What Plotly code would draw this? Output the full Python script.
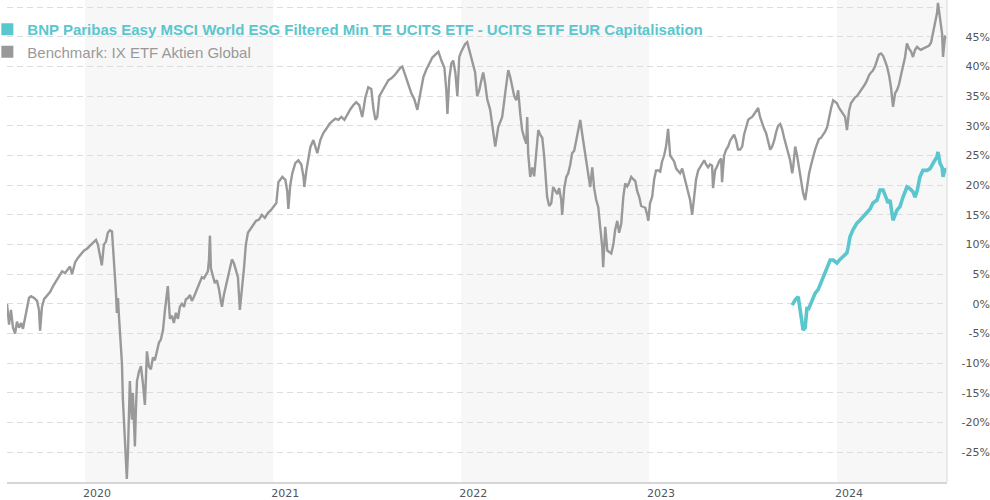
import pandas as pd
import plotly.graph_objects as go

# ---------------- data (time as decimal years, values in %) ----------------
bench_t = [
    2019.585, 2019.596, 2019.606, 2019.617, 2019.628, 2019.638, 2019.649, 2019.660, 2019.670, 2019.681,
    2019.691, 2019.702, 2019.713, 2019.729, 2019.745, 2019.755, 2019.761, 2019.771, 2019.782, 2019.798,
    2019.814, 2019.830, 2019.846, 2019.862, 2019.878, 2019.894, 2019.910, 2019.920, 2019.931, 2019.947,
    2019.963, 2019.979, 2019.995, 2020.011, 2020.027, 2020.043, 2020.059, 2020.069, 2020.080, 2020.090,
    2020.101, 2020.112, 2020.122, 2020.133, 2020.144, 2020.154, 2020.160, 2020.165, 2020.170, 2020.176,
    2020.181, 2020.186, 2020.191, 2020.197, 2020.202, 2020.207, 2020.213, 2020.218, 2020.223, 2020.229,
    2020.234, 2020.239, 2020.245, 2020.250, 2020.255, 2020.261, 2020.266, 2020.271, 2020.277, 2020.287,
    2020.298, 2020.309, 2020.319, 2020.330, 2020.340, 2020.351, 2020.362, 2020.372, 2020.383, 2020.394,
    2020.404, 2020.415, 2020.426, 2020.436, 2020.441, 2020.452, 2020.463, 2020.473, 2020.484, 2020.495,
    2020.505, 2020.516, 2020.527, 2020.537, 2020.548, 2020.559, 2020.569, 2020.580, 2020.590, 2020.601,
    2020.612, 2020.622, 2020.633, 2020.644, 2020.654, 2020.660, 2020.665, 2020.670, 2020.681, 2020.691,
    2020.702, 2020.713, 2020.723, 2020.729, 2020.739, 2020.750, 2020.761, 2020.771, 2020.782, 2020.793,
    2020.803, 2020.814, 2020.824, 2020.835, 2020.846, 2020.856, 2020.867, 2020.878, 2020.894, 2020.910,
    2020.926, 2020.941, 2020.957, 2020.973, 2020.989, 2021.005, 2021.016, 2021.027, 2021.037, 2021.048,
    2021.064, 2021.074, 2021.080, 2021.090, 2021.101, 2021.117, 2021.133, 2021.149, 2021.160, 2021.165,
    2021.176, 2021.186, 2021.197, 2021.213, 2021.223, 2021.234, 2021.250, 2021.266, 2021.282, 2021.298,
    2021.314, 2021.330, 2021.346, 2021.362, 2021.378, 2021.394, 2021.410, 2021.426, 2021.441, 2021.457,
    2021.473, 2021.489, 2021.505, 2021.521, 2021.532, 2021.543, 2021.553, 2021.564, 2021.580, 2021.596,
    2021.612, 2021.628, 2021.644, 2021.660, 2021.676, 2021.686, 2021.702, 2021.718, 2021.734, 2021.750,
    2021.766, 2021.782, 2021.798, 2021.814, 2021.830, 2021.846, 2021.862, 2021.878, 2021.894, 2021.910,
    2021.920, 2021.926, 2021.936, 2021.947, 2021.957, 2021.968, 2021.979, 2021.989, 2022.000, 2022.011,
    2022.021, 2022.032, 2022.043, 2022.053, 2022.064, 2022.074, 2022.085, 2022.096, 2022.106, 2022.117,
    2022.128, 2022.138, 2022.154, 2022.170, 2022.181, 2022.197, 2022.218, 2022.234, 2022.250, 2022.261,
    2022.271, 2022.282, 2022.293, 2022.303, 2022.314, 2022.324, 2022.335, 2022.346, 2022.351, 2022.356,
    2022.367, 2022.378, 2022.388, 2022.399, 2022.410, 2022.420, 2022.431, 2022.441, 2022.452, 2022.457,
    2022.468, 2022.479, 2022.489, 2022.500, 2022.511, 2022.521, 2022.532, 2022.537, 2022.548, 2022.559,
    2022.569, 2022.580, 2022.590, 2022.601, 2022.612, 2022.622, 2022.633, 2022.644, 2022.654, 2022.665,
    2022.676, 2022.686, 2022.697, 2022.707, 2022.718, 2022.729, 2022.739, 2022.750, 2022.755, 2022.766,
    2022.777, 2022.787, 2022.798, 2022.809, 2022.819, 2022.830, 2022.840, 2022.851, 2022.862, 2022.872,
    2022.883, 2022.894, 2022.904, 2022.915, 2022.926, 2022.936, 2022.947, 2022.957, 2022.968, 2022.979,
    2022.989, 2022.995, 2023.005, 2023.016, 2023.027, 2023.037, 2023.048, 2023.059, 2023.069, 2023.080,
    2023.090, 2023.101, 2023.112, 2023.122, 2023.133, 2023.144, 2023.154, 2023.165, 2023.176, 2023.186,
    2023.197, 2023.207, 2023.218, 2023.229, 2023.239, 2023.250, 2023.261, 2023.271, 2023.282, 2023.293,
    2023.303, 2023.314, 2023.324, 2023.335, 2023.340, 2023.351, 2023.362, 2023.372, 2023.383, 2023.388,
    2023.399, 2023.410, 2023.420, 2023.431, 2023.441, 2023.452, 2023.463, 2023.473, 2023.484, 2023.495,
    2023.505, 2023.516, 2023.527, 2023.537, 2023.548, 2023.559, 2023.569, 2023.580, 2023.590, 2023.601,
    2023.612, 2023.622, 2023.633, 2023.644, 2023.654, 2023.665, 2023.676, 2023.686, 2023.697, 2023.707,
    2023.718, 2023.729, 2023.739, 2023.750, 2023.761, 2023.766, 2023.777, 2023.787, 2023.798, 2023.809,
    2023.819, 2023.830, 2023.840, 2023.851, 2023.862, 2023.872, 2023.883, 2023.894, 2023.904, 2023.915,
    2023.926, 2023.936, 2023.947, 2023.957, 2023.968, 2023.979, 2023.989, 2024.000, 2024.011, 2024.021,
    2024.032, 2024.043, 2024.053, 2024.064, 2024.074, 2024.085, 2024.096, 2024.106, 2024.117, 2024.128,
    2024.138, 2024.149, 2024.160, 2024.170, 2024.181, 2024.191, 2024.202, 2024.213, 2024.223, 2024.234,
    2024.245, 2024.255, 2024.266, 2024.277, 2024.287, 2024.298, 2024.309, 2024.319, 2024.330, 2024.340,
    2024.351, 2024.362, 2024.372, 2024.383, 2024.394, 2024.404, 2024.415, 2024.426, 2024.436, 2024.447,
    2024.457, 2024.468, 2024.479, 2024.489, 2024.500, 2024.511, 2024.521, 2024.532, 2024.537, 2024.548,
    2024.559, 2024.564, 2024.574, 2024.585,
]
bench_v = [
    0.0, -3.5, -1.0, -4.0, -5.0, -3.0, -4.0, -3.2, -4.2, -2.5,
    -0.5, 1.0, 1.3, 1.0, 0.5, -1.0, -4.5, -0.5, 0.8, 1.5,
    2.0, 3.0, 3.8, 4.5, 5.5, 5.2, 6.0, 6.3, 5.0, 7.0,
    7.8, 8.5, 9.0, 9.3, 9.8, 10.3, 10.8, 10.0, 7.8, 6.5,
    10.0, 10.5, 12.0, 12.4, 12.2, 8.0, 5.0, 2.0, -1.5, 1.0,
    -2.0, -5.0, -7.5, -10.0, -16.0, -19.0, -23.5, -27.0, -29.5, -25.0,
    -19.0, -13.0, -17.0, -19.5, -15.0, -20.0, -24.0, -18.0, -13.0, -11.5,
    -10.5, -13.5, -17.0, -8.0, -10.5, -11.0, -9.0, -9.5, -8.0, -6.5,
    -6.0, -4.5, -1.0, 2.0, 3.0, -2.5, -2.0, -3.2, -1.5, -2.5,
    -0.5, 0.0, -0.5, 0.8, 1.0, 1.5, 0.5, 1.2, 2.0, 3.0,
    4.0, 4.5, 4.3, 5.0, 5.5, 7.5, 11.5, 6.0, 4.5, 3.5,
    4.0, 2.5, 0.5, -0.5, 1.5, 3.0, 4.5, 6.0, 7.5, 6.8,
    5.8, 4.5, -1.0, 2.0, 6.0, 10.0, 12.0, 12.5, 13.2, 14.0,
    14.2, 15.0, 14.5, 15.3, 15.8, 16.5, 17.0, 20.5, 21.0, 21.4,
    20.9, 19.0, 16.0, 20.0, 22.0, 23.7, 24.2, 23.5, 21.5, 19.7,
    22.5, 24.5, 26.4, 27.6, 26.5, 25.4, 27.6, 28.8, 29.5, 30.3,
    30.8, 31.2, 31.0, 31.5, 31.0, 32.0, 32.8, 33.5, 34.0, 33.5,
    31.5, 34.7, 36.5, 36.2, 33.0, 31.0, 31.5, 35.0, 36.0, 36.8,
    37.7, 38.0, 38.5, 39.2, 39.8, 40.0, 38.5, 36.7, 35.5, 34.5,
    32.7, 35.5, 38.2, 39.5, 40.5, 41.5, 42.0, 42.5, 41.0, 39.8,
    36.0, 32.0, 38.0, 40.5, 41.0, 39.0, 35.0, 41.6, 42.5, 43.3,
    43.8, 44.1, 42.7, 41.5, 40.5, 39.0, 35.0, 36.0, 37.5, 39.0,
    37.0, 34.5, 32.7, 28.8, 26.5, 29.8, 31.5, 35.5, 39.4, 38.2,
    36.5, 35.0, 34.3, 36.0, 32.0, 29.3, 28.0, 27.0, 31.5, 25.4,
    21.4, 23.0, 21.5, 25.0, 29.3, 28.5, 28.0, 25.0, 21.0, 18.0,
    16.5, 17.0, 19.7, 19.0, 18.5, 19.5, 17.5, 15.0, 19.5, 21.4,
    22.0, 23.5, 25.4, 25.8, 27.5, 29.3, 31.0, 28.5, 26.5, 24.5,
    22.5, 19.7, 23.0, 19.5, 17.5, 16.3, 13.0, 9.6, 6.2, 13.0,
    9.0, 8.8, 8.5, 10.0, 12.5, 14.0, 12.0, 13.5, 18.0, 20.3,
    19.8, 20.5, 21.4, 21.0, 20.7, 19.0, 18.0, 16.5, 16.3, 16.2,
    15.0, 14.0, 17.0, 18.0, 21.0, 22.5, 22.5, 22.3, 24.0, 25.0,
    26.5, 29.5, 25.0, 24.5, 24.0, 22.8, 22.5, 22.0, 22.8, 21.5,
    20.0, 18.5, 17.5, 15.0, 18.5, 21.0, 22.5, 23.0, 23.5, 24.2,
    23.5, 23.0, 23.5, 23.3, 19.5, 22.5, 23.2, 24.0, 24.5, 20.5,
    25.0, 26.0, 26.5, 27.5, 28.0, 28.5, 27.5, 26.0, 26.0, 26.5,
    28.5, 30.0, 31.0, 31.3, 31.5, 32.0, 32.5, 33.0, 31.5, 30.3,
    29.5, 28.8, 27.5, 26.0, 26.5, 27.5, 29.0, 30.0, 30.3, 29.5,
    28.0, 26.5, 25.5, 24.2, 22.0, 23.0, 26.5, 25.0, 23.0, 20.5,
    18.7, 17.5, 20.0, 22.0, 23.5, 24.8, 26.0, 27.0, 27.8, 28.0,
    28.5, 29.0, 29.8, 31.5, 33.0, 34.3, 34.0, 33.8, 33.0, 32.5,
    32.0, 31.5, 29.3, 32.5, 33.8, 34.3, 34.8, 35.0, 35.5, 36.0,
    36.5, 37.0, 37.7, 38.5, 39.0, 39.3, 40.0, 41.0, 42.0, 42.2,
    41.8, 41.0, 40.0, 38.5, 36.5, 33.2, 35.5, 36.0, 37.0, 38.5,
    40.0, 41.6, 43.9, 43.0, 42.5, 41.6, 42.8, 43.3, 43.0, 42.8,
    43.0, 43.2, 43.3, 43.5, 44.0, 45.6, 47.5, 49.0, 50.7, 47.8,
    45.5, 41.6, 45.0, 44.8,
]

fund_t = [
    2023.761, 2023.777, 2023.793, 2023.803, 2023.814, 2023.819, 2023.830, 2023.840, 2023.846, 2023.867,
    2023.883, 2023.899, 2023.920, 2023.926, 2023.947, 2023.963, 2023.979, 2024.000, 2024.016, 2024.032,
    2024.053, 2024.059, 2024.069, 2024.085, 2024.106, 2024.122, 2024.138, 2024.160, 2024.176, 2024.191,
    2024.213, 2024.229, 2024.245, 2024.266, 2024.271, 2024.282, 2024.293, 2024.298, 2024.319, 2024.335,
    2024.351, 2024.372, 2024.388, 2024.404, 2024.415, 2024.426, 2024.441, 2024.457, 2024.479, 2024.495,
    2024.511, 2024.532, 2024.537, 2024.548, 2024.559, 2024.564, 2024.574, 2024.585,
]
fund_v = [
    -0.2, 0.7, 1.2, -1.0, -3.2, -4.4, -4.0, -0.5, -1.0, 0.7,
    1.8, 2.4, 4.0, 4.5, 6.2, 7.4, 7.4, 6.9, 7.5, 8.0,
    8.6, 9.5, 11.3, 12.5, 13.6, 14.1, 14.7, 15.5, 16.0, 17.0,
    17.5, 19.2, 19.2, 17.5, 17.0, 17.5, 15.3, 14.1, 15.8, 16.4,
    18.0, 19.7, 19.4, 18.9, 18.0, 19.0, 21.4, 22.5, 22.5, 22.8,
    23.7, 24.8, 25.6, 23.7, 23.0, 21.4, 22.8, 22.3,
]

fund_name = "BNP Paribas Easy MSCI World ESG Filtered Min TE UCITS ETF - UCITS ETF EUR Capitalisation"
bench_name = "Benchmark: IX ETF Aktien Global"
year_ticks = [2020, 2021, 2022, 2023, 2024]
shaded_years = [2020, 2022, 2024]
y_ticks = [-25, -20, -15, -10, -5, 0, 5, 10, 15, 20, 25, 30, 35, 40, 45, 50]

FUND_COLOR = "#5ac6cd"
BENCH_COLOR = "#999999"


def to_date(t):
    yr = int(t)
    return pd.Timestamp(year=yr, month=1, day=1) + pd.Timedelta(days=(t - yr) * 365.25)


bench_x = [to_date(t) for t in bench_t]
fund_x = [to_date(t) for t in fund_t]

fig = go.Figure()

fig.add_trace(go.Scatter(x=bench_x, y=bench_v, mode="lines",
                         line=dict(color=BENCH_COLOR, width=2.4),
                         showlegend=False, name=bench_name))
fig.add_trace(go.Scatter(x=fund_x, y=fund_v, mode="lines",
                         line=dict(color=FUND_COLOR, width=3.6),
                         showlegend=False, name=fund_name))

# legend entries with square symbols
fig.add_trace(go.Scatter(x=[None], y=[None], mode="markers",
                         marker=dict(symbol="square", size=9, color=FUND_COLOR),
                         name=f"<b><span style='color:{FUND_COLOR}'>{fund_name}</span></b>"))
fig.add_trace(go.Scatter(x=[None], y=[None], mode="markers",
                         marker=dict(symbol="square", size=9, color=BENCH_COLOR),
                         name=f"<span style='color:{BENCH_COLOR}'>{bench_name}</span>"))

shapes = []
for yr in shaded_years:
    shapes.append(dict(type="rect", xref="x", yref="y domain",
                       x0=f"{yr}-01-01", x1=f"{yr + 1}-01-01", y0=0, y1=1,
                       fillcolor="#f7f7f7", line=dict(width=0), layer="below"))
shapes.append(dict(type="line", xref="x domain", yref="y domain",
                   x0=1, x1=1, y0=0, y1=1,
                   line=dict(color="#e3e3e3", width=1.5), layer="above"))

L, R = 7, 0
plot_w = 990 - L - R

fig.update_layout(
    width=990, height=500,
    margin=dict(l=L, r=R, t=0, b=18, autoexpand=False),
    plot_bgcolor="white", paper_bgcolor="white",
    shapes=shapes,
    showlegend=True,
    legend=dict(x=-0.02, y=0.973, xanchor="left", yanchor="top",
                bgcolor="rgba(0,0,0,0)", font=dict(family="Liberation Sans, Arial", size=15, color="#999999"),
                tracegroupgap=0, itemsizing="constant"),
    xaxis=dict(domain=[0, (947 - L) / plot_w],
               range=[bench_x[0], bench_x[-1]],
               tickvals=[f"{y}-01-01" for y in year_ticks],
               ticktext=[str(y) for y in year_ticks],
               ticklabelshift=12, ticks="", showgrid=False,
               showline=True, linecolor="#d6d6d6", linewidth=2,
               tickfont=dict(family="DejaVu Sans", size=11, color="#555555"),
               zeroline=False, automargin=False),
    yaxis=dict(anchor="free", position=1.0, side="left",
               range=[-30, 51.2], automargin=False,
               tickvals=y_ticks,
               ticktext=[f"{v}%" if v != 50 else "" for v in y_ticks],
               ticks="", showline=False, zeroline=False,
               showgrid=True, gridcolor="#dddddd", gridwidth=1, griddash="6px,4px",
               tickfont=dict(family="DejaVu Sans", size=11, color="#555555")),
)

fig.write_html("out.html", config={"displayModeBar": False},
               post_script="document.body.style.margin='0';document.body.style.overflow='hidden';")
